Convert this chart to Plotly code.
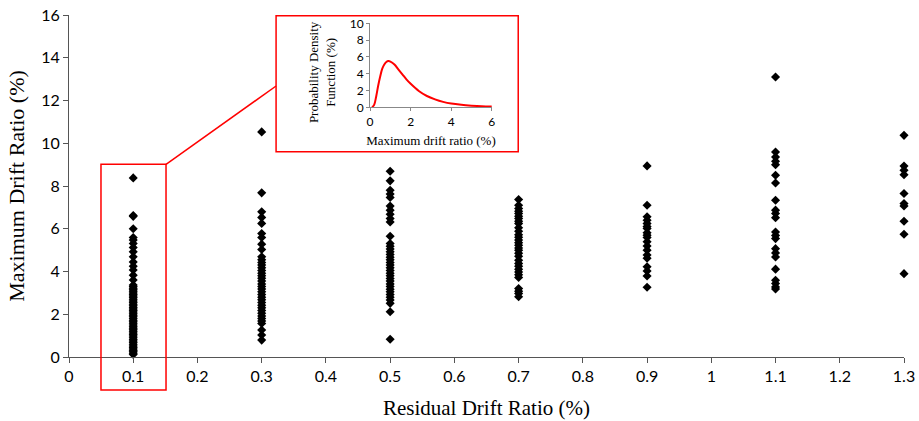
import plotly.graph_objects as go

# ---- data ----
y_01 = [8.38, 6.62, 6.58, 6.0, 5.59, 5.47, 5.31, 5.12, 4.92, 4.69, 4.45, 4.25, 4.07, 3.83, 3.6, 3.37,
        3.3, 3.22, 3.15, 3.08, 3.0, 2.92, 2.85, 2.78, 2.7, 2.62, 2.55, 2.47, 2.4, 2.32, 2.25, 2.18,
        2.1, 2.02, 1.95, 1.88, 1.8, 1.72, 1.65, 1.58, 1.5, 1.42, 1.35, 1.28, 1.2, 1.12, 1.05, 0.98,
        0.9, 0.82, 0.75, 0.68, 0.6, 0.52, 0.45, 0.38, 0.3, 0.25, 0.18, 0.12]
y_03 = [10.53, 7.68, 6.79, 6.53, 6.25, 5.78, 5.59, 5.28, 5.03, 4.69, 4.55, 4.42, 4.3, 4.18, 4.05,
        3.92, 3.8, 3.68, 3.55, 3.42, 3.3, 3.18, 3.05, 2.92, 2.8, 2.68, 2.55, 2.42, 2.3, 2.18, 2.05,
        1.92, 1.8, 1.68, 1.57, 1.26, 1.03, 0.79]
y_05 = [8.69, 8.24, 7.8, 7.62, 7.46, 7.06, 6.87, 6.68, 6.48, 6.32, 5.65, 5.31, 5.18, 5.05, 4.92,
        4.8, 4.67, 4.55, 4.42, 4.3, 4.17, 4.05, 3.92, 3.8, 3.67, 3.55, 3.42, 3.3, 3.17, 3.05, 2.92,
        2.8, 2.67, 2.51, 2.12, 0.83]
y_07 = [7.37, 7.1, 6.95, 6.82, 6.71, 6.58, 6.48, 6.35, 6.24, 6.05, 5.88, 5.72, 5.6, 5.47, 5.35,
        5.23, 5.1, 5.0, 4.85, 4.71, 4.53, 4.38, 4.25, 4.1, 3.98, 3.85, 3.72, 3.2, 3.08, 2.97, 2.82]
y_09 = [8.94, 7.1, 6.56, 6.4, 6.24, 6.1, 6.01, 5.81, 5.7, 5.59, 5.39, 5.19, 5.0, 4.77, 4.62,
        4.22, 4.02, 3.79, 3.26]
y_11 = [13.1, 9.59, 9.36, 9.16, 9.0, 8.5, 8.14, 7.33, 6.87, 6.71, 6.52, 5.85, 5.69, 5.54, 5.07,
        4.87, 4.68, 4.11, 3.59, 3.44, 3.28, 3.18]
y_13 = [10.37, 8.93, 8.74, 8.53, 7.65, 7.18, 7.07, 6.35, 5.74, 3.9]

groups_x = [0.1, 0.3, 0.5, 0.7, 0.9, 1.1, 1.3]
groups_y = [y_01, y_03, y_05, y_07, y_09, y_11, y_13]

x_tickvals = [0, 0.1, 0.2, 0.3, 0.4, 0.5, 0.6, 0.7, 0.8, 0.9, 1.0, 1.1, 1.2, 1.3]
x_ticktext = ["0", "0.1", "0.2", "0.3", "0.4", "0.5", "0.6", "0.7", "0.8", "0.9", "1", "1.1", "1.2", "1.3"]
y_tickvals = [0, 2, 4, 6, 8, 10, 12, 14, 16]

pdf_x = [0.1, 0.2, 0.3, 0.4, 0.5, 0.6, 0.7, 0.8, 0.9, 1.0, 1.2, 1.4, 1.6, 1.8, 2.0, 2.4, 2.8,
         3.2, 3.6, 4.0, 4.5, 5.0, 5.5, 6.0]
pdf_y = [0.0, 0.3, 1.3, 2.6, 3.7, 4.6, 5.1, 5.4, 5.5, 5.45, 5.1, 4.5, 3.9, 3.3, 2.8, 1.95, 1.35,
         0.95, 0.65, 0.45, 0.3, 0.2, 0.13, 0.1]

# ---- figure ----
xs, ys = [], []
for gx, gy in zip(groups_x, groups_y):
    xs += [gx] * len(gy)
    ys += gy

fig = go.Figure()
fig.add_trace(go.Scatter(x=xs, y=ys, mode="markers", cliponaxis=False,
                         marker=dict(symbol="diamond", size=7, color="black"),
                         showlegend=False))
fig.add_trace(go.Scatter(x=pdf_x, y=pdf_y, mode="lines", line=dict(color="red", width=2, shape="spline"),
                         xaxis="x2", yaxis="y2", showlegend=False))

tickfont = dict(family="Lato, Open Sans, sans-serif", size=16, color="black")
serif = "Liberation Serif, Times New Roman, serif"

fig.update_layout(
    width=919, height=421,
    margin=dict(l=69, r=15, t=15, b=64, autoexpand=False),
    paper_bgcolor="white", plot_bgcolor="white",
    xaxis=dict(range=[0, 1.3], tickvals=x_tickvals, ticktext=x_ticktext, showgrid=False,
               zeroline=False, showline=True, linecolor="#555", linewidth=1, ticks="outside",
               ticklen=5, tickcolor="#555", tickfont=tickfont, automargin=False,
               title=dict(text="Residual Drift Ratio (%)", font=dict(family=serif, size=21, color="black"),
                          standoff=16)),
    yaxis=dict(range=[0, 16], tickvals=y_tickvals, showgrid=False, zeroline=False, showline=True,
               linecolor="#555", linewidth=1, ticks="outside", ticklen=5, tickcolor="#555",
               tickfont=tickfont, automargin=False,
               title=dict(text="Maximum Drift Ratio (%)", font=dict(family=serif, size=22, color="black"),
                          standoff=10)),
    xaxis2=dict(domain=[0.3606, 0.5064], anchor="y2", range=[0, 6], tickvals=[0, 2, 4, 6],
                showgrid=False, zeroline=False, showline=True, linecolor="#888", ticks="outside",
                ticklen=3, tickcolor="#888", automargin=False,
                tickfont=dict(family="Lato, sans-serif", size=12, color="black"),
                title=dict(text="Maximum drift ratio (%)", font=dict(family=serif, size=13, color="black"),
                           standoff=8)),
    yaxis2=dict(domain=[0.730, 0.9757], anchor="x2", range=[0, 10], tickvals=[0, 2, 4, 6, 8, 10],
                showgrid=False, zeroline=False, showline=True, linecolor="#888", ticks="outside",
                ticklen=3, tickcolor="#888", automargin=False,
                tickfont=dict(family="Lato, sans-serif", size=12, color="black")),
    annotations=[
        dict(text="Probability Density<br>Function (%)", xref="paper", yref="paper",
             x=0.303, y=0.833, textangle=-90, showarrow=False,
             xanchor="center", yanchor="middle",
             font=dict(family=serif, size=13, color="black")),
    ],
    shapes=[
        dict(type="rect", xref="paper", yref="paper", x0=0.0383, x1=0.1162, y0=-0.0965, y1=0.5635,
             line=dict(color="red", width=1.5)),
        dict(type="rect", xref="paper", yref="paper", x0=0.248, x1=0.538, y0=0.600, y1=0.998,
             line=dict(color="red", width=1.5)),
        dict(type="line", xref="paper", yref="paper", x0=0.1162, y0=0.5635, x1=0.248, y1=0.7924,
             line=dict(color="red", width=1.5)),
    ],
)

fig.write_html("out.html", config={"displayModeBar": False},
               post_script="document.body.style.margin='0';")
